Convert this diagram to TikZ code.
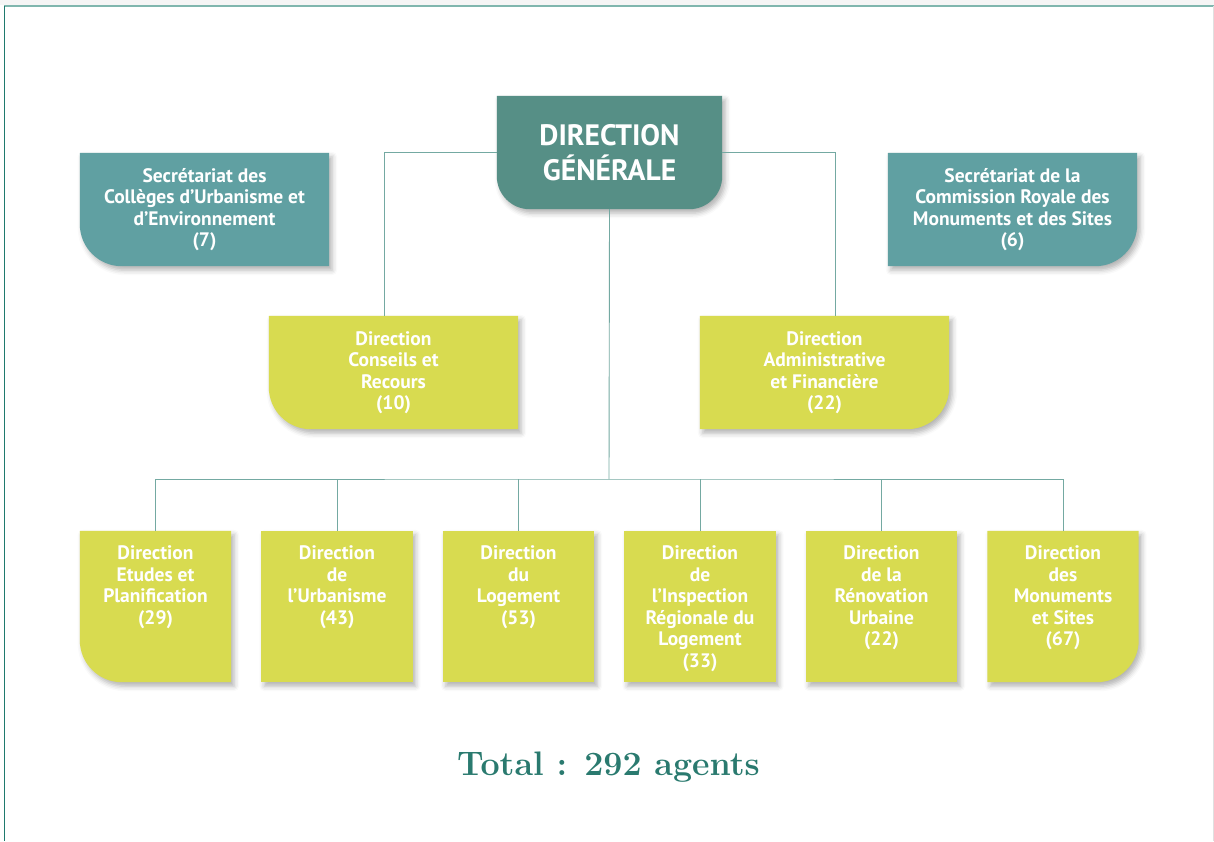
\documentclass[tikz,border=0pt]{standalone}
\usepackage{fontspec}
\setsansfont{PT Sans}
\usetikzlibrary{backgrounds,shadows.blur}
\definecolor{dgteal}{HTML}{568F86}
\definecolor{secteal}{HTML}{60A0A2}
\definecolor{dirlime}{HTML}{D8DB50}
\definecolor{linkteal}{HTML}{74A9A2}
\definecolor{totalteal}{HTML}{2A7A6F}
\definecolor{frameteal}{HTML}{1F7A6E}
\definecolor{framelight}{HTML}{80B6AE}

\begin{document}
\begin{tikzpicture}[x=1pt,y=-1pt,
    dgbox/.style={minimum width=225pt,minimum height=113pt,inner sep=0pt,align=center,text=white,
                  font=\sffamily\bfseries\fontsize{29.5}{35}\selectfont},
    secbox/.style={minimum width=249pt,minimum height=113pt,inner sep=0pt,align=center,text=white,
                   font=\sffamily\bfseries\fontsize{19.5}{21.5}\selectfont},
    dirbox/.style={minimum width=151pt,minimum height=151pt,inner sep=0pt,text=white,
                   font=\sffamily\bfseries\fontsize{19.5}{21.5}\selectfont},
    link/.style={draw=linkteal,line width=0.9pt},
    boxshadow/.style={blur shadow={shadow xshift=3pt,shadow yshift=-4pt,shadow blur radius=5pt,shadow opacity=30}}
    ]
    \useasboundingbox (0,0) rectangle (1214,841);
    \fill[black!4] (0,0) rectangle (1214,5);
    \draw[framelight,line width=1.5pt] (4,6) -- (1214,6);
    \draw[frameteal,line width=1.5pt] (4.5,6) -- (4.5,841);
    \draw[black!12,line width=0.8pt] (1213,6) -- (1213,841);

    \node[dgbox] (dg) at (609.5,152.5) {DIRECTION\\GÉNÉRALE};
    \node[secbox] (secl) at (204.5,209.5) {Secrétariat des\\Collèges d’Urbanisme et\\d’Environnement\\(7)};
    \node[secbox] (secr) at (1012.5,209.5) {Secrétariat de la\\Commission Royale des\\Monuments et des Sites\\(6)};
    \node[secbox] (dcr) at (393.5,372.5) {Direction\\Conseils et\\Recours\\(10)};
    \node[secbox] (daf) at (824.5,372.5) {Direction\\Administrative\\et Financière\\(22)};
    \foreach \i/\x/\txt in {1/155.5/{Direction\\Etudes et\\Planification\\(29)},
                            2/337/{Direction\\de\\l’Urbanisme\\(43)},
                            3/518.5/{Direction\\du\\Logement\\(53)},
                            4/700/{Direction\\de\\l’Inspection\\Régionale du\\Logement\\(33)},
                            5/881.5/{Direction\\de la\\Rénovation\\Urbaine\\(22)},
                            6/1063/{Direction\\des\\Monuments\\et Sites\\(67)}}
        {
        \node[dirbox] (b\i) at (\x,606.5) {\parbox[c][121pt][t]{151pt}{\centering\txt}};
        }

    \begin{pgfonlayer}{background}
        \fill[dgteal,boxshadow] (dg.north west) -- (dg.north east) -- ([yshift=33pt]dg.south east)
            arc[start angle=0,end angle=-90,radius=33pt] -- ([xshift=33pt]dg.south west)
            arc[start angle=270,end angle=180,radius=33pt] -- cycle;
        \fill[secteal,boxshadow] (secl.north west) -- (secl.north east) -- (secl.south east)
            -- ([xshift=42pt]secl.south west) arc[start angle=270,end angle=180,radius=42pt] -- cycle;
        \fill[secteal,boxshadow] (secr.north west) -- (secr.north east) -- ([yshift=42pt]secr.south east)
            arc[start angle=0,end angle=-90,radius=42pt] -- (secr.south west) -- cycle;
        \fill[dirlime,boxshadow] (dcr.north west) -- (dcr.north east) -- (dcr.south east)
            -- ([xshift=42pt]dcr.south west) arc[start angle=270,end angle=180,radius=42pt] -- cycle;
        \fill[dirlime,boxshadow] (daf.north west) -- (daf.north east) -- ([yshift=42pt]daf.south east)
            arc[start angle=0,end angle=-90,radius=42pt] -- (daf.south west) -- cycle;
        \fill[dirlime,boxshadow] (b1.north west) -- (b1.north east) -- (b1.south east)
            -- ([xshift=42pt]b1.south west) arc[start angle=270,end angle=180,radius=42pt] -- cycle;
        \foreach \b in {b2,b3,b4,b5}
            \fill[dirlime,boxshadow] (\b.north west) rectangle (\b.south east);
        \fill[dirlime,boxshadow] (b6.north west) -- (b6.north east) -- ([yshift=42pt]b6.south east)
            arc[start angle=0,end angle=-90,radius=42pt] -- (b6.south west) -- cycle;
    \end{pgfonlayer}

    \draw[link] (dg.west) -| ([xshift=-9.5pt]dcr.north);
    \draw[link] (dg.east) -| ([xshift=10.5pt]daf.north);
    \coordinate (bus) at (609,479);
    \draw[link] (dg.south) -- (bus);
    \draw[link] (b1.north) |- (bus) -| (b6.north);
    \foreach \i in {2,...,5}
        \draw[link] (b\i.north) -- (b\i.north |- bus);

    \node[anchor=base,text=totalteal,font=\bfseries\fontsize{34}{40}\selectfont] (total) at (608.5,775)
        {Total : 292 agents};
\end{tikzpicture}
\end{document}
